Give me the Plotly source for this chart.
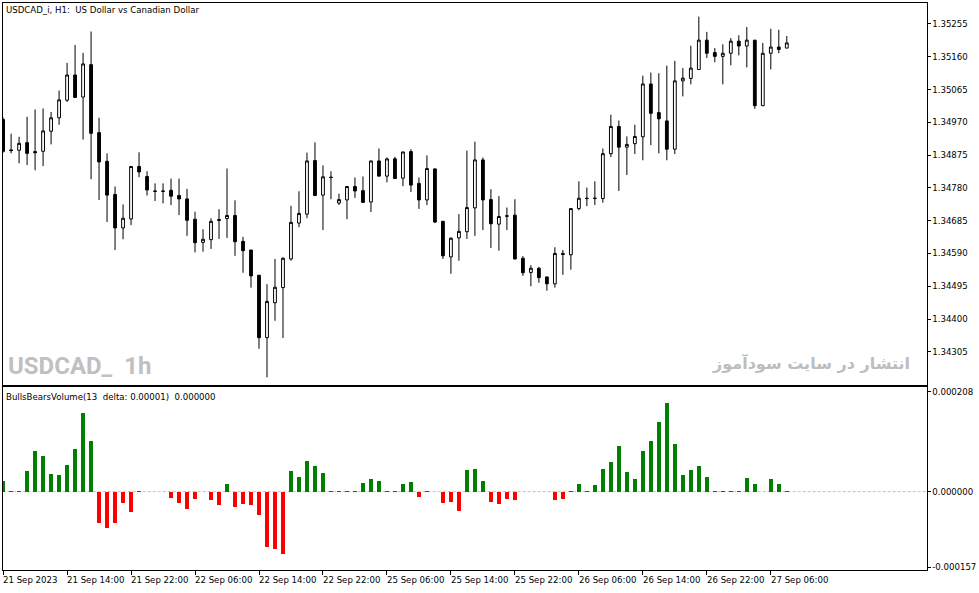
import plotly.graph_objects as go

# ---------------- data ----------------
bar_index = list(range(99))

open_ = [1.34978,1.34890,1.34889,1.34911,1.34885,1.34886,1.34944,1.34983,1.35034,1.35107,
         1.35043,1.35137,1.34940,1.34857,1.34761,1.34664,1.34690,1.34842,1.34813,1.34771,
         1.34771,1.34773,1.34758,1.34748,1.34689,1.34622,1.34630,1.34688,1.34691,1.34700,
         1.34625,1.34600,1.34527,1.34346,1.34447,1.34491,1.34574,1.34678,1.34704,1.34859,
         1.34759,1.34811,1.34736,1.34745,1.34784,1.34772,1.34739,1.34858,1.34814,1.34864,
         1.34808,1.34885,1.34793,1.34745,1.34835,1.34683,1.34580,1.34635,1.34653,1.34722,
         1.34861,1.34746,1.34675,1.34699,1.34701,1.34576,1.34535,1.34547,1.34522,1.34502,
         1.34590,1.34586,1.34720,1.34750,1.34749,1.34749,1.34879,1.34958,1.34898,1.34908,
         1.34928,1.35081,1.34998,1.34974,1.34892,1.35090,1.35097,1.35123,1.35208,1.35172,
         1.35161,1.35170,1.35205,1.35191,1.35208,1.35018,1.35170,1.35188,1.35185]

high = [1.34984,1.34937,1.34928,1.34986,1.35007,1.35010,1.35000,1.35062,1.35142,1.35194,
        1.35171,1.35233,1.34983,1.34880,1.34784,1.34732,1.34842,1.34883,1.34828,1.34793,
        1.34793,1.34807,1.34807,1.34777,1.34711,1.34660,1.34692,1.34718,1.34836,1.34744,
        1.34638,1.34600,1.34527,1.34501,1.34574,1.34579,1.34728,1.34770,1.34882,1.34912,
        1.34845,1.34828,1.34763,1.34784,1.34810,1.34813,1.34859,1.34894,1.34868,1.34870,
        1.34885,1.34892,1.34810,1.34874,1.34836,1.34683,1.34637,1.34704,1.34888,1.34914,
        1.34868,1.34776,1.34756,1.34723,1.34747,1.34582,1.34556,1.34551,1.34522,1.34608,
        1.34600,1.34720,1.34799,1.34781,1.34799,1.34894,1.34992,1.34975,1.34929,1.34963,
        1.35105,1.35114,1.35112,1.35134,1.35148,1.35127,1.35192,1.35276,1.35232,1.35185,
        1.35196,1.35214,1.35222,1.35246,1.35208,1.35200,1.35241,1.35238,1.35220]

low = [1.34882,1.34880,1.34851,1.34846,1.34831,1.34843,1.34906,1.34963,1.35029,1.35042,
       1.34920,1.34805,1.34745,1.34681,1.34600,1.34631,1.34672,1.34811,1.34758,1.34742,
       1.34735,1.34730,1.34701,1.34641,1.34593,1.34595,1.34603,1.34632,1.34635,1.34583,
       1.34534,1.34491,1.34314,1.34231,1.34395,1.34345,1.34569,1.34666,1.34692,1.34756,
       1.34658,1.34747,1.34730,1.34689,1.34751,1.34736,1.34710,1.34814,1.34796,1.34807,
       1.34785,1.34768,1.34719,1.34730,1.34678,1.34574,1.34531,1.34569,1.34632,1.34641,
       1.34658,1.34606,1.34598,1.34658,1.34573,1.34525,1.34495,1.34505,1.34482,1.34491,
       1.34528,1.34543,1.34715,1.34727,1.34730,1.34737,1.34869,1.34771,1.34817,1.34878,
       1.34860,1.34904,1.34880,1.34860,1.34878,1.35045,1.35080,1.35123,1.35156,1.35144,
       1.35080,1.35135,1.35164,1.35129,1.35009,1.35017,1.35123,1.35170,1.35185]

close = [1.34886,1.34888,1.34909,1.34880,1.34882,1.34945,1.34983,1.35035,1.35107,1.35042,
         1.35139,1.34938,1.34855,1.34759,1.34664,1.34692,1.34842,1.34826,1.34774,1.34770,
         1.34770,1.34756,1.34748,1.34686,1.34621,1.34631,1.34683,1.34686,1.34700,1.34624,
         1.34598,1.34525,1.34346,1.34451,1.34492,1.34576,1.34680,1.34706,1.34858,1.34758,
         1.34812,1.34810,1.34746,1.34784,1.34771,1.34738,1.34858,1.34814,1.34864,1.34807,
         1.34884,1.34788,1.34745,1.34836,1.34681,1.34583,1.34634,1.34654,1.34723,1.34861,
         1.34745,1.34676,1.34697,1.34698,1.34574,1.34534,1.34547,1.34520,1.34502,1.34590,
         1.34587,1.34720,1.34750,1.34749,1.34750,1.34879,1.34958,1.34898,1.34906,1.34929,
         1.35081,1.34996,1.34980,1.34892,1.35090,1.35098,1.35127,1.35208,1.35170,1.35161,
         1.35170,1.35205,1.35191,1.35208,1.35018,1.35170,1.35188,1.35181,1.35200]

bulls_bears = [2.14e-5, 1e-6, 1e-6, 4.21e-5, 8.36e-5, 7.32e-5, 3.67e-5, 3.38e-5, 5.46e-5, 8.78e-5,
               1.645e-4, 1.044e-4, -6.49e-5, -7.53e-5, -6.49e-5, -2.34e-5, -4.21e-5, 1e-6, -1e-6, 0.0,
               -1e-6, -1.31e-5, -2.34e-5, -3.59e-5, -1.51e-5, -1e-6, -1.72e-5, -2.76e-5, 1.51e-5, -3.17e-5,
               -2.55e-5, -2.76e-5, -4.83e-5, -1.147e-4, -1.189e-4, -1.293e-4, 4.21e-5, 2.97e-5, 6.29e-5, 5.25e-5,
               3.80e-5, 1e-6, 1e-6, 1e-6, 1e-6, 1.72e-5, 2.55e-5, 2.14e-5, 1e-6, 1e-6,
               1.51e-5, 1.93e-5, -1.10e-5, 1e-6, -1e-6, -2.34e-5, -2.14e-5, -4.00e-5, 4.42e-5, 4.63e-5,
               2.14e-5, -2.14e-5, -2.55e-5, -1.51e-5, -1.72e-5, -1e-6, -1e-6, 0.0, -1e-6, -1.72e-5,
               -1.51e-5, 1e-6, 1.51e-5, 1e-6, 1.31e-5, 4.63e-5, 6.08e-5, 9.40e-5, 4.00e-5, 2.55e-5,
               8.36e-5, 1.064e-4, 1.459e-4, 1.853e-4, 1.002e-4, 3.38e-5, 4.42e-5, 5.25e-5, 2.97e-5, 1e-6,
               1e-6, 1e-6, 1e-6, 2.76e-5, 1.51e-5, -1e-6, 2.55e-5, 1.51e-5, 1e-6]

time_tick_index = [0, 8, 16, 24, 32, 40, 48, 56, 64, 72, 80, 88, 96]
time_tick_labels = ["21 Sep 2023", "21 Sep 14:00", "21 Sep 22:00", "22 Sep 06:00",
                    "22 Sep 14:00", "22 Sep 22:00", "25 Sep 06:00", "25 Sep 14:00",
                    "25 Sep 22:00", "26 Sep 06:00", "26 Sep 14:00", "26 Sep 22:00",
                    "27 Sep 06:00"]

price_ticks = [1.35255, 1.35160, 1.35065, 1.34970, 1.34875, 1.34780,
               1.34685, 1.34590, 1.34495, 1.34400, 1.34305]
ind_ticks = [0.000208, 0.0, -0.000157]
ind_tick_labels = ["0.000208", "0.000000", "-0.000157"]

# ---------------- layout constants ----------------
W, H = 979, 593
FONT = "DejaVu Sans"
FS = 8.6

def px_x(p):
    return p / W

def px_y(p):
    return 1 - p / H

xdom = [px_x(2.7), px_x(926.5)]
ydom_top = [px_y(386.7), px_y(2.7)]
ydom_bot = [px_y(572.3), px_y(388.3)]

bar_colors = ["#008000" if v >= 0 else "#ff0000" for v in bulls_bears]

fig = go.Figure()
fig.add_trace(go.Candlestick(
    x=bar_index, open=open_, high=high, low=low, close=close,
    xaxis="x", yaxis="y",
    increasing=dict(line=dict(color="black", width=1), fillcolor="white"),
    decreasing=dict(line=dict(color="black", width=1), fillcolor="black"),
    whiskerwidth=0, hoverinfo="skip", showlegend=False,
))
fig.add_trace(go.Bar(
    x=bar_index, y=bulls_bears, width=0.5,
    marker=dict(color=bar_colors, line=dict(width=0)),
    xaxis="x2", yaxis="y2", hoverinfo="skip", showlegend=False,
))

axis_common = dict(showgrid=False, zeroline=False, showline=True, mirror=True,
                   linecolor="black", linewidth=1, fixedrange=True)

fig.update_layout(
    width=W, height=H,
    margin=dict(l=0, r=0, t=0, b=0),
    paper_bgcolor="white", plot_bgcolor="white",
    showlegend=False, boxgap=0.5, bargap=0,
    xaxis=dict(domain=xdom, anchor="y", range=[-0.05, 115.47],
               showticklabels=False, ticks="", rangeslider=dict(visible=False),
               **axis_common),
    yaxis=dict(domain=ydom_top, anchor="x", side="right",
               range=[1.342077, 1.353165],
               tickvals=price_ticks, ticktext=[f"{v:.5f}" for v in price_ticks],
               ticks="outside", ticklen=3, tickcolor="black",
               tickfont=dict(family=FONT, size=FS, color="black"),
               **axis_common),
    xaxis2=dict(domain=xdom, anchor="y2", matches="x",
                tickvals=time_tick_index, ticks="outside", ticklen=4,
                tickcolor="black", showticklabels=False,
                **axis_common),
    yaxis2=dict(domain=ydom_bot, anchor="x2", side="right",
                range=[-0.000163925, 0.000217875],
                tickvals=ind_ticks, ticktext=ind_tick_labels,
                ticks="outside", ticklen=3, tickcolor="black",
                tickfont=dict(family=FONT, size=FS, color="black"),
                **axis_common),
)

# zero line of indicator
fig.add_shape(type="line", xref="x2 domain", x0=0, x1=1, yref="y2", y0=0, y1=0,
              line=dict(color="#c0c0c0", width=1, dash="3px,2px"), layer="below")

ann = []
for i, t in zip(time_tick_index, time_tick_labels):
    ann.append(dict(x=i, xref="x2", y=px_y(581.5), yref="paper", text=t,
                    xanchor="left", yanchor="middle", showarrow=False, xshift=-2,
                    font=dict(family=FONT, size=FS, color="black")))

ann.append(dict(x=px_x(4), y=px_y(10), xref="paper", yref="paper",
                text="USDCAD_i, H1:&nbsp; US Dollar vs Canadian Dollar",
                xanchor="left", yanchor="middle", showarrow=False,
                font=dict(family=FONT, size=FS, color="black")))
ann.append(dict(x=px_x(4), y=px_y(398), xref="paper", yref="paper",
                text="BullsBearsVolume(13&nbsp; delta: 0.00001)&nbsp; 0.000000",
                xanchor="left", yanchor="middle", showarrow=False,
                font=dict(family=FONT, size=FS, color="black")))
ann.append(dict(x=px_x(6), y=px_y(367), xref="paper", yref="paper",
                text="<b>USDCAD_&nbsp;&nbsp;1h</b>",
                xanchor="left", yanchor="middle", showarrow=False,
                font=dict(family="Roboto", size=24, color="#c0c0c0")))
ann.append(dict(x=px_x(912), y=px_y(364), xref="paper", yref="paper",
                text="<b>انتشار در سایت سودآموز</b>",
                xanchor="right", yanchor="middle", showarrow=False,
                font=dict(family="DejaVu Sans", size=16, color="#bdbdbd")))

fig.update_layout(annotations=ann)

fig.write_html("out.html",
               config={"displayModeBar": False, "staticPlot": True},
               post_script="document.body.style.margin='0';document.body.style.padding='0';")
